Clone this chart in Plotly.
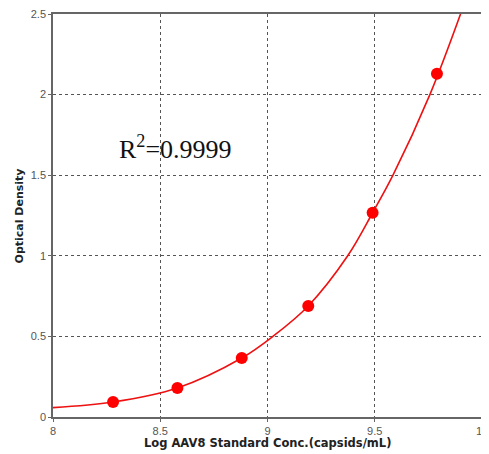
import plotly.graph_objects as go

# Standard points (log conc, OD)
std_x = [8.28, 8.58, 8.88, 9.19, 9.49, 9.79]
std_y = [0.093, 0.18, 0.366, 0.689, 1.267, 2.13]

# Fitted curve
fit_x = [8.0, 8.28, 8.58, 8.88, 9.025, 9.19, 9.374, 9.49, 9.585, 9.757, 9.90]
fit_y = [0.058, 0.093, 0.18, 0.366, 0.5, 0.689, 1.0, 1.267, 1.5, 2.0, 2.5]

x_ticks = [8, 8.5, 9, 9.5, 10]
x_tick_labels = ["8", "8.5", "9", "9.5", "10"]
y_ticks = [0, 0.5, 1, 1.5, 2, 2.5]
y_tick_labels = ["0", "0.5", "1", "1.5", "2", "2.5"]

fig = go.Figure()
fig.add_trace(go.Scatter(x=fit_x, y=fit_y, mode="lines",
                         line=dict(color="#ee1111", width=1.6, shape="spline"),
                         showlegend=False, hoverinfo="skip"))
fig.add_trace(go.Scatter(x=std_x, y=std_y, mode="markers",
                         marker=dict(color="#ff0000", size=12),
                         showlegend=False))

fig.add_annotation(x=8.57, y=1.67, text="R<sup>2</sup>=0.9999", showarrow=False,
                   font=dict(family="Liberation Serif", size=26, color="#111"))

fig.add_annotation(xref="paper", yref="paper", x=0.5, y=-0.0645, yanchor="middle",
                   text="<b>Log AAV8 Standard Conc.(capsids/mL)</b>", showarrow=False,
                   font=dict(family="DejaVu Sans", size=11.5, color="#222"))
fig.add_annotation(xref="paper", yref="paper", x=-0.077, y=0.5, xanchor="center",
                   yanchor="middle", textangle=-90,
                   text="<b>Optical Density</b>", showarrow=False,
                   font=dict(family="DejaVu Sans", size=11, color="#222"))

axis_common = dict(showgrid=True, gridcolor="#555", griddash="dot", gridwidth=1,
                   showline=True, linecolor="#666", linewidth=1.5, mirror=True,
                   ticks="outside", ticklen=3, tickcolor="#666", zeroline=False,
                   automargin=False, ticklabeloverflow="allow",
                   tickfont=dict(family="Liberation Sans", size=11, color="#555"))

fig.update_xaxes(range=[8, 10], tickvals=x_ticks, ticktext=x_tick_labels, **axis_common)
fig.update_yaxes(range=[0, 2.5], tickvals=y_ticks, ticktext=y_tick_labels, **axis_common)

# Page body adds an 8px margin, so the figure is sized to fit inside it
fig.update_layout(width=481, height=446, margin=dict(l=45, r=7, t=6, b=37),
                  paper_bgcolor="white", plot_bgcolor="white")

fig.write_html("out.html")
